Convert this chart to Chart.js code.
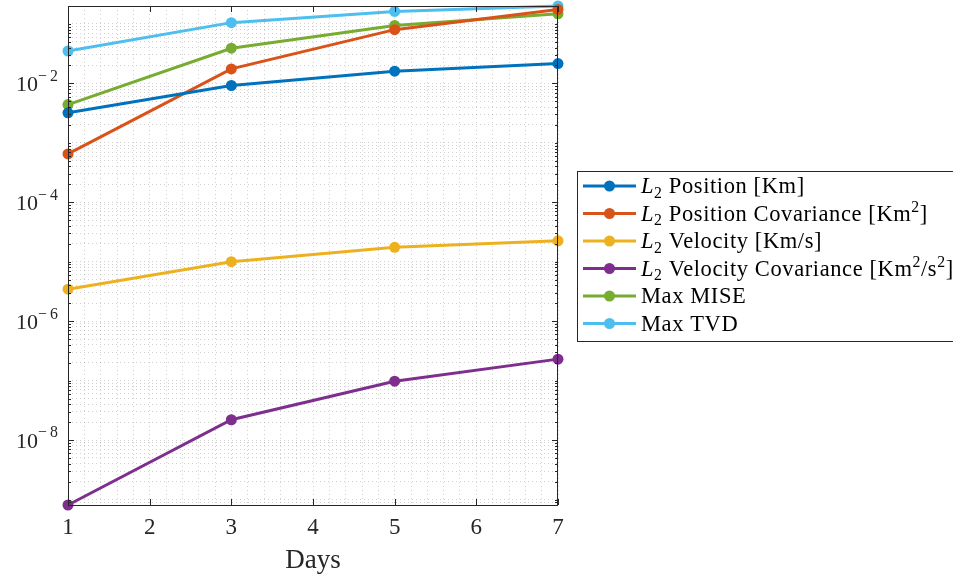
<!DOCTYPE html>
<html>
<head>
<meta charset="utf-8">
<script src="https://cdn.jsdelivr.net/npm/chart.js@4.4.1/dist/chart.umd.min.js"></script>
<style>
  html, body { margin: 0; padding: 0; background: #fff; }
</style>
</head>
<body>
<canvas id="err-chart" width="953" height="578"></canvas>
<script>
// data
var days = [1, 3, 5, 7];
var l2Pos = [3.2e-3, 9.2e-3, 1.6e-2, 2.15e-2];
var l2PosCov = [6.5e-4, 1.75e-2, 8.0e-2, 1.75e-1];
var l2Vel = [3.45e-6, 1.0e-5, 1.75e-5, 2.25e-5];
var l2VelCov = [8.1e-10, 2.2e-8, 9.8e-8, 2.3e-7];
var maxMise = [4.4e-3, 3.9e-2, 9.4e-2, 1.48e-1];
var maxTvd = [3.5e-2, 1.05e-1, 1.62e-1, 2.0e-1];

// *x* = italic, _{..} = subscript, ^{..} = superscript
var seriesNames = [
  "*L*_{2} Position [Km]",
  "*L*_{2} Position Covariance [Km^{2}]",
  "*L*_{2} Velocity [Km/s]",
  "*L*_{2} Velocity Covariance [Km^{2}/s^{2}]",
  "Max MISE",
  "Max TVD"
];
var seriesValues = [l2Pos, l2PosCov, l2Vel, l2VelCov, maxMise, maxTvd];
var seriesColors = ["#0072BD", "#D95319", "#EDB120", "#7E2F8E", "#77AC30", "#4DBEEE"];

var xTickLabels = ["1", "2", "3", "4", "5", "6", "7"];
var yTickExponents = [-2, -4, -6, -8];
var xTitle = "Days";

var serif = '"Liberation Serif", "DejaVu Serif", serif';
var ink = "#262626";
var gridCol = "rgba(0,0,0,0.18)";

var allVals = [].concat.apply([], seriesValues);
var yMin = Math.min.apply(null, allVals);
var yMax = Math.max.apply(null, allVals);

function drawRich(ctx, str, x, y, size, align, supScale, supRise) {
  supScale = supScale || 0.7;
  supRise = supRise || 0.4;
  var parts = [];
  var re = /\*([^*]+)\*|_\{([^}]*)\}|\^\{([^}]*)\}|([^*_^]+)/g, m;
  while ((m = re.exec(str))) {
    if (m[1]) parts.push({ t: m[1], it: true, s: 1, dy: 0 });
    else if (m[2]) parts.push({ t: m[2], s: 0.7, dy: 0.2 });
    else if (m[3]) parts.push({ t: m[3], s: supScale, dy: -supRise });
    else parts.push({ t: m[4], s: 1, dy: 0 });
  }
  var total = 0;
  parts.forEach(function (p) {
    ctx.font = (p.it ? "italic " : "") + (size * p.s) + "px " + serif;
    p.w = ctx.measureText(p.t).width;
    total += p.w;
  });
  var cx = align === "right" ? x - total : x;
  ctx.textAlign = "left";
  ctx.textBaseline = "alphabetic";
  parts.forEach(function (p) {
    ctx.font = (p.it ? "italic " : "") + (size * p.s) + "px " + serif;
    ctx.fillText(p.t, cx, y + p.dy * size);
    cx += p.w;
  });
}

var matlabAxes = {
  id: "matlabAxes",
  afterDatasetsDraw: function (chart) {
    var ctx = chart.ctx, a = chart.chartArea;
    var xs = chart.scales.x, ys = chart.scales.y;
    ctx.save();
    ctx.strokeStyle = ink;
    ctx.lineWidth = 1;
    ctx.beginPath();
    // y ticks, inward on both sides
    ys.ticks.forEach(function (t) {
      var e = Math.log10(t.value);
      var major = yTickExponents.indexOf(Math.round(e)) >= 0 && Math.abs(e - Math.round(e)) < 1e-9;
      var len = major ? 6 : 3;
      var py = Math.round(ys.getPixelForValue(t.value)) + 0.5;
      ctx.moveTo(a.left, py); ctx.lineTo(a.left + len, py);
      ctx.moveTo(a.right, py); ctx.lineTo(a.right - len, py);
    });
    // x ticks at the labelled days
    xTickLabels.forEach(function (lab) {
      var px = Math.round(xs.getPixelForValue(Number(lab))) + 0.5;
      ctx.moveTo(px, a.bottom); ctx.lineTo(px, a.bottom - 6);
      ctx.moveTo(px, a.top); ctx.lineTo(px, a.top + 6);
    });
    ctx.stroke();
    ctx.strokeRect(a.left + 0.5, a.top + 0.5, a.right - a.left - 1, a.bottom - a.top);
    ctx.restore();
  },
  afterDraw: function (chart) {
    var ctx = chart.ctx, ys = chart.scales.y;
    ctx.save();
    ctx.fillStyle = ink;
    yTickExponents.forEach(function (e) {
      var py = ys.getPixelForValue(Math.pow(10, e));
      drawRich(ctx, "10^{\u2212\u2009" + Math.abs(e) + "}", 58, py + 7.5, 22, "right", 0.72, 0.46);
    });

    // legend
    var bx = 577.5, by = 171.5, bw = 400, bh = 170, rowH = 27.5;
    ctx.fillStyle = "#fff";
    ctx.fillRect(bx, by, bw, bh);
    ctx.strokeStyle = ink;
    ctx.lineWidth = 1;
    ctx.strokeRect(bx, by, bw, bh);
    seriesNames.forEach(function (name, i) {
      var cy = 186 + i * rowH;
      ctx.strokeStyle = seriesColors[i];
      ctx.lineWidth = 3;
      ctx.beginPath();
      ctx.moveTo(583, cy); ctx.lineTo(636, cy);
      ctx.stroke();
      ctx.fillStyle = seriesColors[i];
      ctx.beginPath();
      ctx.arc(609.5, cy, 5.5, 0, Math.PI * 2);
      ctx.fill();
      ctx.fillStyle = "#000";
      ctx.letterSpacing = "0.6px";
      drawRich(ctx, name, 641, cy + 7.3, 22.5, "left");
      ctx.letterSpacing = "0px";
    });
    ctx.restore();
  }
};

new Chart(document.getElementById("err-chart"), {
  type: "line",
  data: {
    datasets: seriesNames.map(function (name, i) {
      return {
        label: name,
        data: days.map(function (d, j) { return { x: d, y: seriesValues[i][j] }; }),
        borderColor: seriesColors[i],
        backgroundColor: seriesColors[i],
        pointBackgroundColor: seriesColors[i],
        borderWidth: 3,
        pointRadius: 5.5,
        pointBorderWidth: 0,
        tension: 0,
        clip: false
      };
    })
  },
  options: {
    responsive: false,
    animation: false,
    layout: { padding: { left: 0, top: 6, right: 395, bottom: 0 } },
    plugins: {
      legend: { display: false },
      tooltip: { enabled: false }
    },
    scales: {
      x: {
        type: "linear",
        min: 1,
        max: 7,
        afterFit: function (s) { s.height = 73; },
        grid: { color: gridCol, drawTicks: false },
        border: { display: false, dash: [1, 3] },
        ticks: {
          stepSize: 0.2,
          autoSkip: false,
          maxRotation: 0,
          padding: 9,
          color: ink,
          font: { family: serif, size: 23 },
          callback: function (v) {
            var r = Math.round(v);
            return Math.abs(v - r) < 1e-6 && xTickLabels.indexOf(String(r)) >= 0 ? String(r) : "";
          }
        },
        title: {
          display: true,
          text: xTitle,
          color: ink,
          font: { family: serif, size: 27 },
          padding: { top: 0, bottom: 1 }
        }
      },
      y: {
        type: "logarithmic",
        min: yMin,
        max: yMax,
        afterFit: function (s) { s.width = 68; },
        afterBuildTicks: function (s) {
          var t = [];
          for (var e = -10; e <= 0; e++) {
            for (var k = 1; k <= 9; k++) {
              var v = k * Math.pow(10, e);
              if (v >= s.min && v <= s.max) t.push({ value: v, major: k === 1 });
            }
          }
          s.ticks = t;
        },
        grid: { color: gridCol, drawTicks: false },
        border: { display: false, dash: [1, 3] },
        ticks: { display: false, autoSkip: false }
      }
    }
  },
  plugins: [matlabAxes]
});
</script>
</body>
</html>
